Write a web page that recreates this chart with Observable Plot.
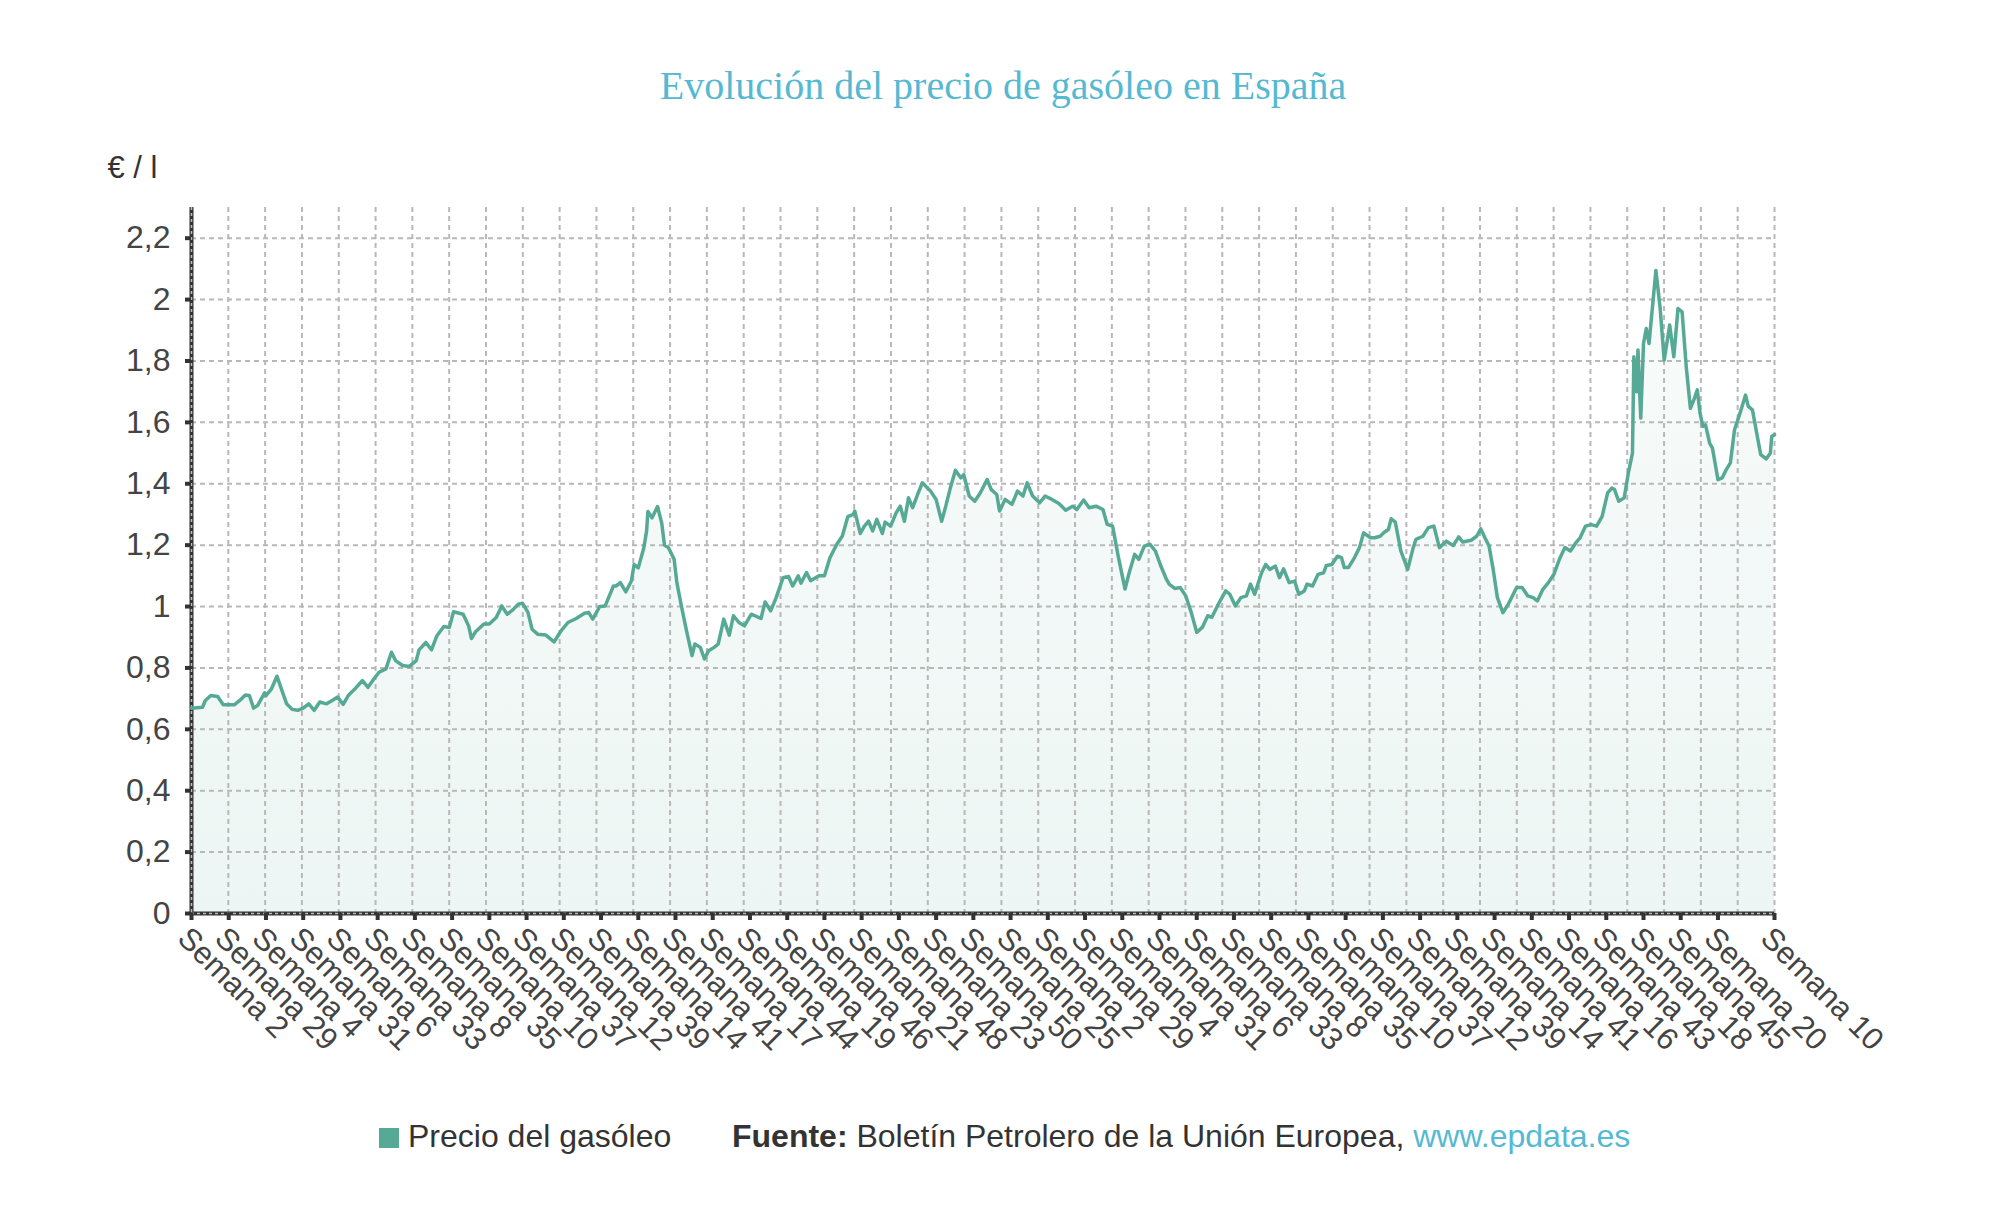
<!DOCTYPE html>
<html>
<head>
<meta charset="utf-8">
<script src="https://cdn.jsdelivr.net/npm/d3@7"></script>
<script src="https://cdn.jsdelivr.net/npm/@observablehq/plot@0.6"></script>
<style>
html, body { margin: 0; padding: 0; background: #fff; }
#wrap { position: relative; width: 2006px; height: 1216px; overflow: hidden; }
#title { position: absolute; left: 0; top: 66px; width: 2006px; text-align: center;
  font-family: "Liberation Serif", "Times New Roman", serif; font-size: 40px; line-height: 40px; color: #55b9d2; }
#chart { position: absolute; left: 0; top: 120px; }
.leg { position: absolute; top: 1118px; font-family: "Liberation Sans", Arial, sans-serif; font-size: 32px;
  line-height: 36px; color: #333; white-space: nowrap; }
#sw { position: absolute; left: 379px; top: 1128px; width: 20px; height: 20px; background: #56a994; }
.link { color: #55b9d2; }
</style>
</head>
<body>
<div id="wrap">
  <div id="title">Evolución del precio de gasóleo en España</div>
  <div id="chart"></div>
  <div id="sw"></div>
  <div class="leg" style="left:408px">Precio del gasóleo</div>
  <div class="leg" style="left:732px"><b>Fuente:</b> Boletín Petrolero de la Unión Europea, <span class="link">www.epdata.es</span></div>
</div>
<script>
// Week index (position in the weekly series) of each read point
const weeks = [
  0,8,10,14,19,23,31,35,39,42,45,48,53,54,58,62,66,69,73,77,81,85,89,93,98,102,106,110,114,119,
  124,128,132,136,141,145,148,153,158,163,165,170,174,178,183,187,190,197,201,203,206,212,216,221,225,229,233,237,240,244,
  247,251,257,263,268,273,279,285,288,291,296,300,303,306,308,311,315,319,321,324,328,330,331,334,338,341,343,346,350,352,
  355,359,363,365,369,372,375,379,382,386,390,393,397,
  401,406,413,416,420,424,429,433,436,440,442,446,449,455,459,463,468,472,476,480,481,485,488,491,494,497,501,503,507,511,
  514,517,520,523,527,530,536,540,544,547,550,554,558,560,564,568,572,577,580,584,586,590,595,599,603,606,610,615,619,624,
  629,634,639,642,647,651,656,661,664,668,672,677,680,684,687,691,695,699,703,707,709,713,717,721,725,729,733,737,740,744,
  750,753,757,
  761,765,768,771,776,779,782,786,789,792,796,800,803,807,809,813,817,821,823,827,831,834,836,839,843,847,850,855,858,862,
  865,868,870,873,877,882,886,888,893,897,901,905,910,915,919,922,928,932,935,938,941,944,947,951,955,961,965,969,973,976,
  980,984,988,992,996,1000,1004,1007,1011,1015,1019,1023,1027,1030,1032,1035,1039,1042,1045,1046,1048,1049,1051,1053,1055,1057,1062,1065,1068,1072,
  1075,1078,1081,1084,1087,1090,1092,1094,1096,1098,1101,1103,1107,1110,1113,1116,1119,1123,1127,1129,1132,1136,1138,1142,1145,1146,1148
];
// Diesel price (€/l) at each of those weeks
const prices = [
  0.669,0.672,0.694,0.710,0.707,0.68,0.68,0.694,0.712,0.71,0.669,0.678,0.719,0.71,0.732,0.773,0.721,0.683,0.665,0.662,
  0.669,0.683,0.662,0.689,0.683,0.694,0.705,0.681,0.712,0.734,0.759,0.737,0.762,0.786,0.797,0.851,0.824,0.808,0.805,0.824,
  0.859,0.883,0.859,0.905,0.935,0.932,0.983,0.975,0.937,0.896,0.918,0.943,0.943,0.964,1.002,0.975,0.989,1.008,1.011,0.981,
  0.926,0.910,0.907,0.885,0.921,0.948,0.961,0.978,0.981,0.959,1.0,1.002,1.035,1.067,1.067,1.078,1.048,1.083,1.137,1.126,
  1.191,1.245,1.31,1.289,1.326,1.272,1.2,1.191,1.154,1.078,1.008,0.921,0.84,0.878,0.867,0.829,0.856,0.867,0.878,0.959,
  0.907,0.97,0.948,
  0.937,0.975,0.961,1.015,0.986,1.029,1.094,1.098,1.067,1.1,1.076,1.111,1.084,1.1,1.1,1.159,1.203,1.23,1.293,1.3,
  1.311,1.238,1.262,1.278,1.246,1.284,1.238,1.275,1.262,1.305,1.327,1.278,1.354,1.322,1.37,1.403,1.376,1.349,1.278,1.327,
  1.381,1.444,1.419,1.43,1.36,1.343,1.37,1.414,1.381,1.365,1.311,1.349,1.333,1.376,1.36,1.403,1.36,1.338,1.36,1.349,
  1.336,1.314,1.327,1.316,1.347,1.322,1.327,1.316,1.268,1.262,1.165,1.057,1.11,1.17,1.154,1.197,1.203,1.181,1.132,1.089,
  1.073,1.059,1.062,1.035,0.981,0.916,0.932,0.97,0.965,1.002,1.051,1.04,1.002,
  1.029,1.035,1.073,1.04,1.11,1.137,1.121,1.132,1.094,1.123,1.078,1.083,1.04,1.051,1.073,1.067,1.105,1.11,1.134,1.137,
  1.164,1.159,1.127,1.127,1.156,1.192,1.24,1.224,1.224,1.229,1.242,1.251,1.286,1.275,1.181,1.121,1.192,1.219,1.229,1.257,
  1.262,1.192,1.213,1.199,1.227,1.21,1.216,1.229,1.253,1.224,1.197,1.121,1.03,0.98,1.008,1.062,1.062,1.035,1.029,1.018,
  1.056,1.078,1.105,1.154,1.192,1.181,1.208,1.224,1.262,1.267,1.262,1.294,1.37,1.386,1.381,1.343,1.354,1.435,1.5,1.814,
  1.7,1.836,1.614,1.857,1.906,1.857,2.095,1.976,1.803,1.917,1.814,1.971,1.96,1.781,1.646,1.679,1.706,1.63,1.587,1.592,
  1.532,1.516,1.413,1.419,1.446,1.468,1.576,1.63,1.689,1.652,1.641,1.543,1.495,1.481,1.5,1.554,1.56
];
// X-axis ticks: week index and label
const xTickWeeks = [0,27,54,81,108,135,162,189,216,243,270,297,324,351,378,405,432,459,486,513,540,567,594,621,648,675,702,729,756,783,810,837,864,891,918,945,972,999,1026,1053,1080,1107,1148];
const xTickLabels = ["Semana 2","Semana 29","Semana 4","Semana 31","Semana 6","Semana 33","Semana 8","Semana 35","Semana 10","Semana 37","Semana 12","Semana 39","Semana 14","Semana 41","Semana 17","Semana 44","Semana 19","Semana 46","Semana 21","Semana 48","Semana 23","Semana 50","Semana 25","Semana 2","Semana 29","Semana 4","Semana 31","Semana 6","Semana 33","Semana 8","Semana 35","Semana 10","Semana 37","Semana 12","Semana 39","Semana 14","Semana 41","Semana 16","Semana 43","Semana 18","Semana 45","Semana 20","Semana 10"];
const yTicks = [0,0.2,0.4,0.6,0.8,1,1.2,1.4,1.6,1.8,2,2.2];
const yLabel = "€ / l";
const lastWeek = 1148;

const data = weeks.map((w, i) => ({w, v: prices[i]}));
const labelOf = new Map(xTickWeeks.map((w, i) => [w, xTickLabels[i]]));
const gridXs = d3.range(44).map(i => i * lastWeek / 43);

const gridStyle = {stroke: "#b8b8b8", strokeOpacity: 1, strokeWidth: 2, strokeDasharray: "5,4"};

const defs = () => {
  const ns = "http://www.w3.org/2000/svg";
  const g = document.createElementNS(ns, "defs");
  g.innerHTML = '<linearGradient id="areaGrad" x1="0" y1="0" x2="0" y2="1">' +
    '<stop offset="0" stop-color="#56a994" stop-opacity="0.04"/>' +
    '<stop offset="1" stop-color="#56a994" stop-opacity="0.11"/></linearGradient>';
  return g;
};

const chart = Plot.plot({
  width: 2006,
  height: 970,
  marginTop: 87,
  marginBottom: 177,
  marginLeft: 191,
  marginRight: 232,
  style: {fontFamily: "'Liberation Sans', Arial, sans-serif", fontSize: "32px", color: "#444", background: "#fff"},
  x: {domain: [0, lastWeek]},
  y: {domain: [0, 2.3]},
  marks: [
    defs,
    Plot.areaY(data, {x: "w", y: "v", fill: "url(#areaGrad)"}),
    Plot.gridY(yTicks.filter(d => d > 0), gridStyle),
    Plot.gridX(gridXs.slice(1), gridStyle),
    Plot.ruleX([0], {stroke: "#333", strokeWidth: 4}),
    Plot.ruleY([0], {stroke: "#333", strokeWidth: 4}),
    Plot.ruleX([0], {stroke: "#bbb", strokeWidth: 1.5, strokeDasharray: "3,3"}),
    Plot.ruleY([0], {stroke: "#bbb", strokeWidth: 1.5, strokeDasharray: "3,3"}),
    Plot.lineY(data, {x: "w", y: "v", stroke: "#56a994", strokeWidth: 3.5, strokeLinejoin: "round"}),
    Plot.axisY(yTicks, {tickFormat: d => String(d).replace(".", ","), tickSize: 6, tickPadding: 15,
      stroke: "#333", strokeWidth: 4, fill: "#444", fontSize: 32, label: null}),
    Plot.axisX(xTickWeeks, {tickFormat: d => labelOf.get(d), tickRotate: 45, tickSize: 7, tickPadding: 4,
      lineAnchor: "top", textAnchor: "start",
      stroke: "#333", strokeWidth: 4, fill: "#444", fontSize: 31, label: null}),
    Plot.text([yLabel], {frameAnchor: "top-left", dx: -84, dy: -30, lineAnchor: "bottom", textAnchor: "start",
      fill: "#333", fontSize: 31})
  ]
});
document.getElementById("chart").appendChild(chart);
</script>
</body>
</html>
